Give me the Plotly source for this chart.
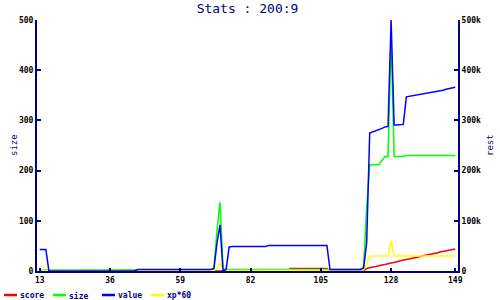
import plotly.graph_objects as go

# ---------------- data ----------------
x_vals = list(range(13, 150))
x_ticks = [13, 36, 59, 82, 105, 128, 149]
y_ticks = [0, 100, 200, 300, 400, 500]
y2_ticks = [0, 100000, 200000, 300000, 400000, 500000]
y2_labels = ["0", "100k", "200k", "300k", "400k", "500k"]
series_names = ["score", "size", "value", "xp*60"]

score = [
    0, 0, 0, 0, 0, 0, 0, 0, 0, 0,          # 13-22
    0, 0, 0, 0, 0, 0, 0, 0, 0, 0,          # 23-32
    0, 0, 0, 0, 0, 0, 0, 0, 0, 0,          # 33-42
    0, 0, 0, 0, 0, 0, 0, 0, 0, 0,          # 43-52
    0, 0, 0, 0, 0, 0, 0, 0, 0, 0,          # 53-62
    0, 0, 0, 0, 0, 0, 0, 0, 0, 0,          # 63-72
    0, 0, 0, 0, 0, 0, 0, 0, 0, 0,          # 73-82
    0, 0, 0, 0, 0, 0, 0, 0, 0, 0,          # 83-92
    0, 0, 5, 5, 5, 5, 5, 5, 5, 5,          # 93-102
    5, 5, 5, 5, 5, 0, 0, 0, 0, 0,          # 103-112
    0, 0, 0, 0, 0, 0, 0, 5, 7, 8,          # 113-122
    9, 11, 12, 13, 15, 16, 17, 19, 20, 22,  # 123-132
    23, 24, 26, 27, 28, 30, 31, 32, 34, 35,  # 133-142
    36, 38, 39, 40, 42, 43, 44,             # 143-149
]

size = [
    2, 2, 2, 2, 2, 2, 2, 2, 2, 2,          # 13-22
    2, 2, 2, 2, 2, 2, 2, 2, 2, 2,          # 23-32
    2, 2, 2, 2, 2, 2, 2, 2, 2, 2,          # 33-42
    2, 2, 2, 2, 2, 2, 2, 2, 2, 2,          # 43-52
    2, 2, 2, 2, 2, 2, 2, 2, 2, 2,          # 53-62
    2, 2, 2, 2, 2, 2, 2, 3, 80, 137,       # 63-72
    5, 3, 3, 3, 3, 3, 3, 3, 3, 3,          # 73-82
    3, 3, 3, 3, 3, 3, 3, 3, 3, 3,          # 83-92
    3, 3, 3, 3, 3, 3, 3, 3, 3, 3,          # 93-102
    3, 3, 3, 3, 3, 3, 3, 3, 3, 3,          # 103-112
    3, 3, 3, 3, 3, 3, 8, 125, 211, 211,    # 113-122
    211, 212, 220, 228, 228, 465, 228, 228, 228, 228,  # 123-132
    230, 230, 230, 230, 230, 230, 230, 230, 230, 230,  # 133-142
    230, 230, 230, 230, 230, 230, 230,     # 143-149
]

value = [
    43000, 43000, 43000, 0, 0, 0, 0, 0, 0, 0,                  # 13-22
    0, 0, 0, 0, 0, 0, 0, 0, 0, 0,                              # 23-32
    0, 0, 0, 0, 0, 0, 0, 0, 0, 0,                              # 33-42
    0, 0, 3000, 3000, 3000, 3000, 3000, 3000, 3000, 3000,      # 43-52
    3000, 3000, 3000, 3000, 3000, 3000, 3000, 3000, 3000, 3000,  # 53-62
    3000, 3000, 3000, 3000, 3000, 3000, 3000, 5000, 55000, 92000,  # 63-72
    0, 3000, 48000, 49000, 49000, 49000, 49000, 49000, 49000, 49000,  # 73-82
    49000, 49000, 49000, 49000, 49000, 51000, 51000, 51000, 51000, 51000,  # 83-92
    51000, 51000, 51000, 51000, 51000, 51000, 51000, 51000, 51000, 51000,  # 93-102
    51000, 51000, 51000, 51000, 51000, 3000, 3000, 3000, 3000, 3000,  # 103-112
    3000, 3000, 3000, 3000, 3000, 3000, 6000, 56000, 275000, 277000,  # 113-122
    279000, 282000, 284000, 287000, 288000, 500000, 291000, 291000, 292000, 292000,  # 123-132
    347000, 348000, 349000, 350000, 351000, 352000, 353000, 354000, 355000, 357000,  # 133-142
    358000, 359000, 360000, 362000, 363000, 364000, 366000,    # 143-149
]

xp60 = [
    1, 1, 1, 1, 1, 1, 1, 1, 1, 1,          # 13-22
    1, 1, 1, 1, 1, 1, 1, 1, 1, 1,          # 23-32
    1, 1, 1, 1, 1, 1, 1, 1, 1, 1,          # 33-42
    1, 1, 1, 1, 1, 1, 1, 1, 1, 1,          # 43-52
    1, 1, 1, 1, 1, 1, 1, 1, 1, 1,          # 53-62
    1, 1, 1, 1, 1, 1, 1, 1, 5, 16,         # 63-72
    2, 1, 1, 1, 1, 1, 1, 1, 1, 1,          # 73-82
    1, 1, 1, 1, 1, 1, 1, 1, 1, 1,          # 83-92
    1, 1, 1, 1, 1, 1, 1, 1, 1, 1,          # 93-102
    1, 1, 1, 1, 1, 1, 1, 1, 1, 1,          # 103-112
    1, 1, 1, 1, 1, 1, 2, 14, 30, 30,       # 113-122
    30, 30, 30, 30, 30, 60, 30, 30, 30, 30,  # 123-132
    30, 30, 30, 30, 30, 30, 30, 30, 30, 30,  # 133-142
    30, 30, 30, 30, 30, 30, 30,            # 143-149
]

# ---------------- style ----------------
NAVY = "#000080"
COLORS = ["#ff0000", "#00ff00", "#0000ff", "#ffff00"]
MONO = "DejaVu Sans Mono"

W, H = 500, 300
ML, MR, MT, MB = 37, 42, 20, 29
PW, PH = W - ML - MR, H - MT - MB


def px_x(px):
    return (px - ML) / PW


def px_y(py):
    return (H - MB - py) / PH


fig = go.Figure()
fig.add_trace(go.Scatter(x=x_vals, y=score, name=series_names[0], mode="lines",
                         line=dict(color=COLORS[0], width=1.5), yaxis="y"))
fig.add_trace(go.Scatter(x=x_vals, y=size, name=series_names[1], mode="lines",
                         line=dict(color=COLORS[1], width=1.5), yaxis="y"))
fig.add_trace(go.Scatter(x=x_vals, y=value, name=series_names[2], mode="lines",
                         line=dict(color=COLORS[2], width=1.5), yaxis="y2"))
fig.add_trace(go.Scatter(x=x_vals, y=xp60, name=series_names[3], mode="lines",
                         line=dict(color=COLORS[3], width=1.5), yaxis="y"))

tickfont = dict(family=MONO, size=8, color="black", weight="bold")

fig.update_layout(
    width=W, height=H,
    margin=dict(l=ML, r=MR, t=MT, b=MB, pad=0),
    paper_bgcolor="white", plot_bgcolor="white",
    showlegend=False,
    title=dict(text="Stats : 200:9", x=0.5, xref="paper", xanchor="center",
               y=1 - 8 / H, yref="container", yanchor="middle",
               font=dict(family=MONO, size=13, color=NAVY)),
    xaxis=dict(range=[12.1, 149.9], tickmode="array", tickvals=x_ticks,
               ticktext=[str(v) for v in x_ticks],
               showgrid=False, zeroline=False, showline=True, linecolor=NAVY,
               linewidth=2, ticks="inside", ticklen=3, tickwidth=2, tickcolor=NAVY,
               tickfont=tickfont, mirror=False),
    yaxis=dict(range=[0, 500], tickmode="array", tickvals=y_ticks,
               showgrid=False, zeroline=False, showline=True, linecolor=NAVY,
               linewidth=2, ticks="inside", ticklen=4, tickwidth=2, tickcolor=NAVY,
               tickfont=tickfont),
    yaxis2=dict(range=[0, 500000], overlaying="y", side="right", tickmode="array",
                tickvals=y2_ticks, ticktext=y2_labels,
                showgrid=False, zeroline=False, showline=True, linecolor=NAVY,
                linewidth=2, ticks="inside", ticklen=4, tickwidth=2, tickcolor=NAVY,
                tickfont=tickfont),
)

# axis titles
fig.add_annotation(text="size", xref="paper", yref="paper", x=px_x(8.5), y=0.5,
                   textangle=-90, showarrow=False, borderpad=0, borderwidth=0,
                   font=dict(family=MONO, size=9, color=NAVY))
fig.add_annotation(text="rest", xref="paper", yref="paper", x=px_x(494.5), y=0.5,
                   textangle=-90, showarrow=False, borderpad=0, borderwidth=0,
                   font=dict(family=MONO, size=9, color=NAVY))

# manual legend at the bottom
legend_line_px = [(4, 17), (53, 66), (102, 115), (151, 164)]
legend_text_px = [20, 69, 118, 166.5]
ly = px_y(295)
for name, col, (a, b), tx in zip(series_names, COLORS, legend_line_px, legend_text_px):
    fig.add_shape(type="line", xref="paper", yref="paper", x0=px_x(a), x1=px_x(b),
                  y0=ly, y1=ly, line=dict(color=col, width=2.5))
    fig.add_annotation(text=name, xref="paper", yref="paper", x=px_x(tx), y=px_y(295.5),
                       xanchor="left", yanchor="middle", showarrow=False,
                       borderpad=0, borderwidth=0,
                       font=dict(family=MONO, size=8, color=NAVY, weight="bold"))

fig.write_html("out.html")
